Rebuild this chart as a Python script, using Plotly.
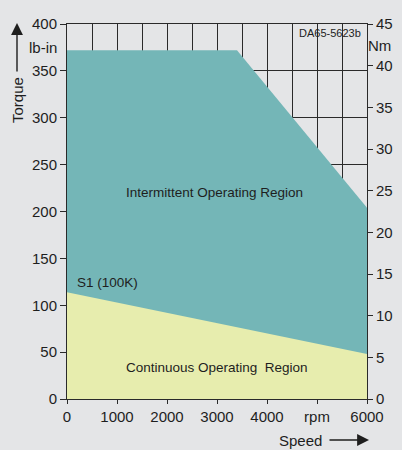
import plotly.graph_objects as go

# ---- data ----
speed_intermittent = [0, 3400, 6000]
torque_intermittent = [372, 372, 204]      # lb-in
speed_continuous = [0, 6000]
torque_continuous = [114, 48]              # lb-in

x_tickvals = [0, 1000, 2000, 3000, 4000, 5000, 6000]
x_ticktext = ["0", "1000", "2000", "3000", "4000", "rpm", "6000"]
y_tickvals = [0, 50, 100, 150, 200, 250, 300, 350, 400]
nm_tickvals = [0, 5, 10, 15, 20, 25, 30, 35, 40, 45]

BG = "#e4e5e7"
TEAL = "#74b6b7"
YELLOW = "#e7edae"
INK = "#1e1e1e"
LINE = "#2a2a2a"
FONT = "Arial, Liberation Sans, sans-serif"

fig = go.Figure()
fig.add_trace(go.Scatter(x=speed_intermittent, y=torque_intermittent, mode="lines",
                         line=dict(width=0, color=TEAL), fill="tozeroy", fillcolor=TEAL,
                         hoverinfo="skip", showlegend=False))
fig.add_trace(go.Scatter(x=speed_continuous, y=torque_continuous, mode="lines",
                         line=dict(width=0, color=YELLOW), fill="tozeroy", fillcolor=YELLOW,
                         hoverinfo="skip", showlegend=False))
# dummy trace for right axis
fig.add_trace(go.Scatter(x=[None], y=[None], yaxis="y2", showlegend=False, hoverinfo="skip"))

fig.update_layout(
    width=402, height=450,
    margin=dict(l=67, r=35, t=24, b=51, autoexpand=False),
    paper_bgcolor=BG, plot_bgcolor=BG,
    font=dict(family=FONT, size=15, color=INK),
    xaxis=dict(range=[0, 6000], tickvals=x_tickvals, ticktext=x_ticktext,
               showgrid=True, gridcolor=LINE, gridwidth=1,
               minor=dict(dtick=500, showgrid=True, gridcolor=LINE, gridwidth=1, ticks=""),
               ticks="outside", ticklen=4, tickcolor=LINE,
               showline=True, linecolor=LINE, linewidth=1, mirror=True,
               zeroline=False, fixedrange=True, automargin=False),
    yaxis=dict(range=[0, 400], tickvals=y_tickvals,
               showgrid=True, gridcolor=LINE, gridwidth=1,
               ticks="outside", ticklen=6, tickcolor=LINE,
               showline=True, linecolor=LINE, linewidth=1, mirror=True,
               zeroline=False, fixedrange=True, automargin=False),
    yaxis2=dict(range=[0, 45], tickvals=nm_tickvals, overlaying="y", side="right",
                showgrid=False, ticks="outside", ticklen=5, tickcolor=LINE,
                showline=False, zeroline=False, fixedrange=True, automargin=False),
)

# box behind the drawing number (hides grid lines)
fig.add_shape(type="rect", xref="paper", yref="paper",
              x0=(296 - 67) / 300, x1=(365 - 67) / 300,
              y0=(399 - 43) / 375, y1=(399 - 25) / 375,
              fillcolor=BG, line=dict(width=0), layer="between")


def px(xp):
    return (xp - 67) / 300


def py(yp):
    return (399 - yp) / 375


ann = []
ann.append(dict(text="Intermittent Operating Region", x=2950, y=220, xref="x", yref="y",
                xanchor="center", yanchor="middle",
                showarrow=False, font=dict(size=13.5, color=INK)))
ann.append(dict(text="Continuous Operating  Region", x=3000, y=34, xref="x", yref="y",
                xanchor="center", yanchor="middle",
                showarrow=False, font=dict(size=13.5, color=INK)))
ann.append(dict(text="S1 (100K)", x=160, y=124, xref="x", yref="y", xanchor="left",
                yanchor="middle", showarrow=False, font=dict(size=13.5, color=INK)))
ann.append(dict(text="DA65-5623b", x=px(330), y=py(33), xanchor="center", yanchor="middle",
                xref="paper", yref="paper", showarrow=False, font=dict(size=11, color=INK)))
ann.append(dict(text="Torque", x=px(17), y=py(100), xref="paper", yref="paper",
                xanchor="center", yanchor="middle",
                textangle=-90, showarrow=False, font=dict(size=15, color=INK)))
ann.append(dict(text="lb-in", x=px(59), y=py(47), xref="paper", yref="paper",
                xanchor="right", yanchor="middle", showarrow=False, font=dict(size=15, color=INK)))
ann.append(dict(text="Nm", x=px(380), y=py(45), xref="paper", yref="paper",
                xanchor="center", yanchor="middle",
                showarrow=False, font=dict(size=15, color=INK)))
ann.append(dict(text="Speed", x=px(300), y=py(440), xref="paper", yref="paper",
                xanchor="center", yanchor="middle",
                showarrow=False, font=dict(size=15, color=INK)))
# arrows
ann.append(dict(text="", x=px(17), y=py(23), xref="paper", yref="paper",
                ax=0, ay=50, showarrow=True, arrowhead=2, arrowsize=1.7, arrowwidth=1.4,
                arrowcolor=INK))
ann.append(dict(text="", x=px(369), y=py(440), xref="paper", yref="paper",
                ax=-41, ay=0, showarrow=True, arrowhead=2, arrowsize=1.7, arrowwidth=1.4,
                arrowcolor=INK))
fig.update_layout(annotations=ann)

fig.write_html(
    "out.html",
    config={"displayModeBar": False},
    post_script="document.body.style.margin='0';document.body.style.background='%s';" % BG,
)
